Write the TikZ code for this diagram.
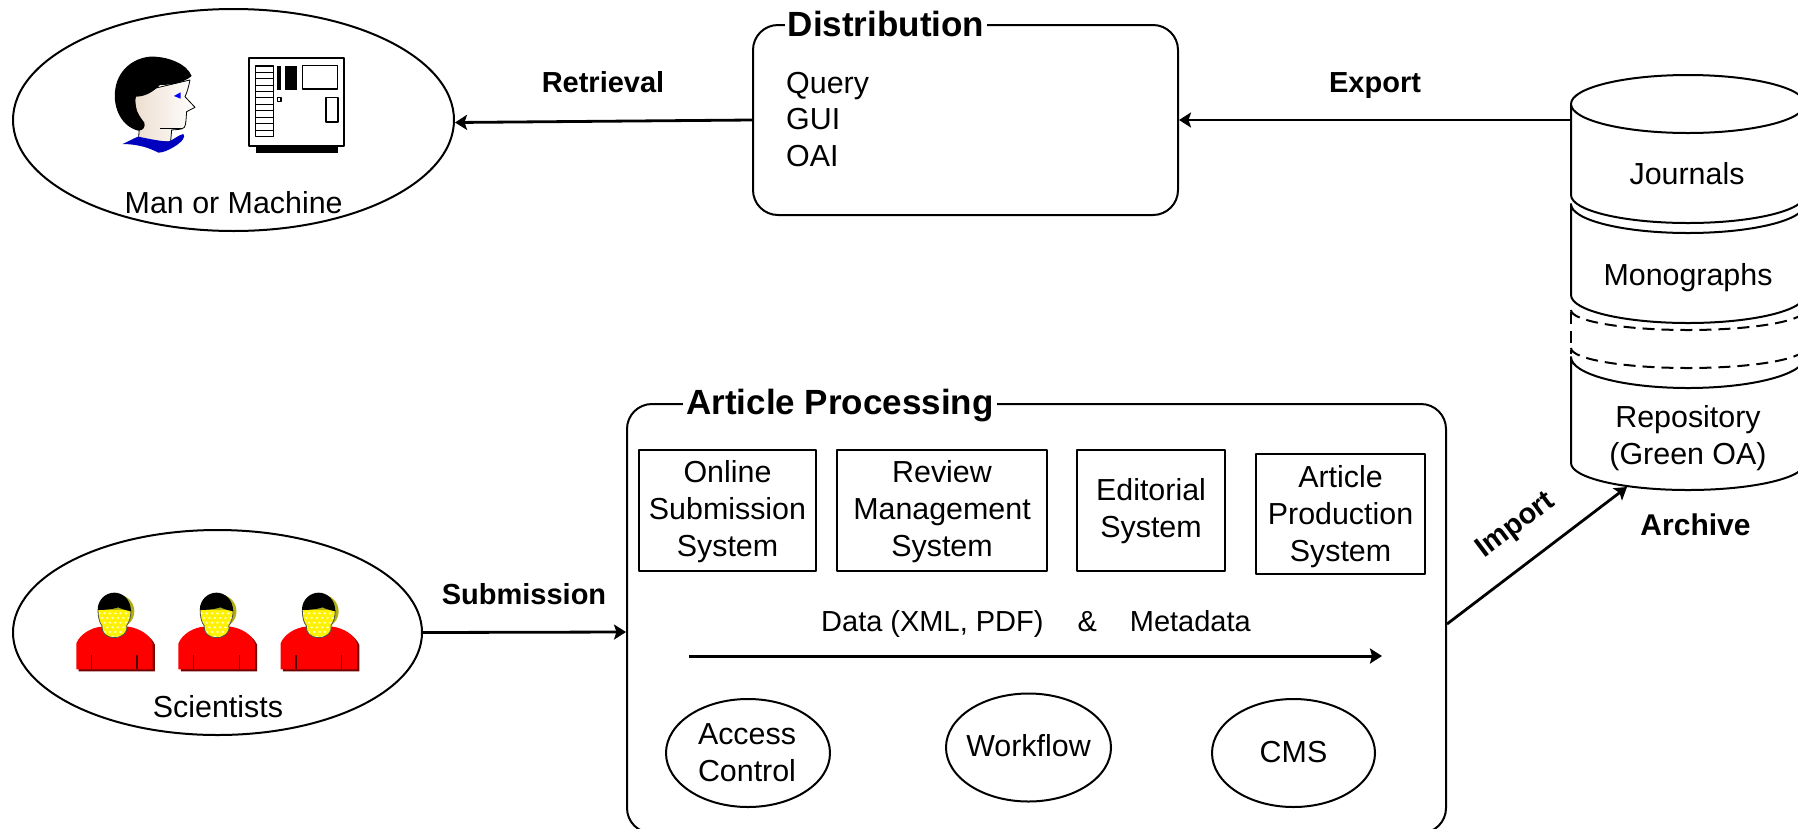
\documentclass[tikz,border=0pt]{standalone}
\usepackage{fontspec}
\setmainfont{Liberation Sans}
\usetikzlibrary{arrows.meta,shapes.geometric}
\definecolor{shadowyellow}{RGB}{175,175,20}
\newcommand{\tallline}[1]{\rule{0pt}{#1pt}}
\tikzset{
  txt/.style={font=\fontsize{30.4}{37}\selectfont,inner sep=0pt,align=center},
  boldlabel/.style={font=\fontsize{29}{35}\selectfont\bfseries,inner sep=0pt},
  grouptitle/.style={font=\fontsize{35}{42}\selectfont\bfseries,fill=white,inner xsep=3pt,inner ysep=0pt,anchor=base},
  group/.style={draw,line width=2pt,rounded corners=25pt,inner sep=0pt,fill=white},
  sysbox/.style={draw,line width=2pt,txt,fill=white},
  big/.style={draw,ellipse,line width=2pt,inner sep=0pt,fill=white},
  conn/.style={line width=2.8pt,-{Stealth[length=12pt,width=15pt,inset=2.5pt]}},
  cyl/.style={draw,line width=2pt,fill=white},
  cyldash/.style={line width=2pt,dash pattern=on 12pt off 7pt},
  person/.pic={
    % shadows
    \fill[shadowyellow] (353,304) circle[radius=50];
    \fill[black!55!red] (236,484) -- (236,405) .. controls (250,375) and (280,355) .. (300,355) -- (390,355) .. controls (425,360) and (455,380) .. (465,405) -- (465,484) -- cycle;
    % body
    \fill[red] (229,478) -- (229,400) .. controls (240,372) and (275,352) .. (305,350) -- (385,350) .. controls (420,355) and (450,375) .. (458,400) -- (458,478) -- cycle;
    \draw[black!70!red,line width=1.2pt] (275,436) -- (275,478) (411,436) -- (411,478);
    % face
    \fill[yellow]
        (294,300) .. controls (294,320) and (298,338) .. (306,347)
        .. controls (304,368) and (318,382) .. (343,383)
        .. controls (368,382) and (384,368) .. (380,347)
        .. controls (388,336) and (393,320) .. (393,300) -- cycle;
    \begin{scope}
      \clip
        (294,300) .. controls (294,320) and (298,338) .. (306,347)
        .. controls (304,368) and (318,382) .. (343,383)
        .. controls (368,382) and (384,368) .. (380,347)
        .. controls (388,336) and (393,320) .. (393,300) -- cycle;
      \foreach \row in {0,1,2,3,4,5,6} \foreach \col in {0,...,6}
        \fill[white!75!yellow] ({290+\col*16+mod(\row,2)*8},{296+\row*14}) ellipse[x radius=4.5,y radius=3.5];
    \end{scope}
    \draw[black!70,line width=0.8pt]
        (294,300) .. controls (294,320) and (298,338) .. (306,347)
        .. controls (304,368) and (318,382) .. (343,383)
        .. controls (368,382) and (384,368) .. (380,347)
        .. controls (388,336) and (393,320) .. (393,300);
    % hair
    \fill[black] (293,300) .. controls (293,268) and (318,248) .. (343,248)
      .. controls (368,248) and (393,268) .. (393,304)
      .. controls (375,300) and (362,296) .. (355,292)
      .. controls (345,296) and (320,300) .. (293,300) -- cycle;
  }
}
\begin{document}
\begin{tikzpicture}[x=1pt,y=-1pt,line join=round]
\useasboundingbox (0,0) rectangle (1798,828);
\clip (0,0) rectangle (1798,828);
\fill[white] (0,0) rectangle (1798,828);

% --- Man or Machine
\node[big,minimum width=441pt,minimum height=222pt] (man) at (233.5,120) {};
\node[txt,anchor=base] (manlabel) at (233.7,213.7) {Man or Machine};
\begin{scope}[x=0.3333pt,y=-0.3333pt]
  % face
  \path[left color=black!5!brown!25!white,right color=white,draw=black,line width=0.8pt]
    (400,280) -- (570,240) .. controls (565,265) and (560,280) .. (555,290)
    -- (585,322) -- (560,335) .. controls (558,360) and (558,375) .. (553,382)
    .. controls (545,390) and (530,388) .. (515,390) -- (512,425) -- (415,425) -- (418,385) -- cycle;
  \draw[line width=1.2pt] (480,386) -- (545,386);
  % hair
  \fill[black] (575,228) .. controls (560,190) and (500,168) .. (450,170)
    .. controls (395,175) and (350,215) .. (345,275)
    .. controls (340,325) and (365,380) .. (415,392)
    .. controls (430,392) and (437,380) .. (433,368)
    .. controls (415,345) and (400,320) .. (408,290)
    .. controls (440,290) and (465,270) .. (480,255)
    .. controls (510,255) and (550,250) .. (575,228) -- cycle;
  % collar
  \fill[blue!75!black] (368,432) .. controls (385,425) and (400,415) .. (415,410)
    .. controls (440,415) and (470,422) .. (505,425)
    .. controls (520,420) and (535,405) .. (550,402)
    .. controls (558,410) and (548,425) .. (520,442)
    .. controls (505,450) and (490,458) .. (475,458)
    .. controls (450,445) and (420,433) .. (368,432) -- cycle;
  % eye
  \fill[blue] (522,288) -- (542,277) -- (542,296) -- cycle;
  % machine
  \fill[black] (767,437) rectangle (1015,460);
  \draw[line width=1.8pt,fill=white] (747,175) rectangle (1033,437);
  \draw[line width=1.2pt] (767,198) rectangle (820,410);
  \foreach \yy in {217,236,256,275,294,314,333,352,371,391}
    \draw[line width=1pt] (767,\yy) -- (820,\yy);
  \fill[black] (832,198) rectangle (843,270);
  \fill[black] (855,198) rectangle (890,270);
  \draw[line width=1.5pt] (907,196) rectangle (1013,267);
  \draw[line width=1.2pt] (832,293) rectangle (843,305);
  \draw[line width=1.5pt] (978,293) rectangle (1014,366);
\end{scope}

% --- Scientists
\node[big,minimum width=409pt,minimum height=205pt] (sci) at (217.5,632.5) {};
\node[txt,anchor=base] (scilabel) at (218,717) {Scientists};
\begin{scope}[x=0.3333pt,y=-0.3333pt,yshift=-510pt]
  \pic at (0,0) {person};
  \pic at (306.5,0) {person};
  \pic at (613,0) {person};
\end{scope}

% --- Distribution
\node[group,minimum width=425pt,minimum height=190pt] (dist) at (965.5,120) {};
\node[grouptitle] (disttitle) at (886,36) {Distribution};
\node[txt,align=left,anchor=base west,font=\fontsize{30.4}{36.5}\selectfont] (distlist) at (786,166) {Query\\GUI\\OAI};

% --- Article Processing
\node[group,minimum width=819pt,minimum height=429pt] (art) at (1036.5,618.5) {};
\node[grouptitle] (arttitle) at (840,414.5) {Article Processing};
\node[sysbox,minimum width=177pt,minimum height=121pt] (oss) at (727.5,510.5) {\tallline{25}Online\\Submission\\System};
\node[sysbox,minimum width=210pt,minimum height=121pt] (rms) at (942,510.5) {\tallline{25}Review\\Management\\System};
\node[sysbox,minimum width=148pt,minimum height=121pt] (eds) at (1151,510.5) {\tallline{24}Editorial\\System};
\node[sysbox,minimum width=169pt,minimum height=120pt] (aps) at (1340.5,514) {\tallline{26.5}Article\\Production\\System};
\node[anchor=base,inner sep=0pt,font=\fontsize{29}{35}\selectfont] (datalabel) at (1036,631) {Data (XML, PDF)\hspace{34pt}\&\hspace{33pt}Metadata};
\coordinate (dstart) at (689,656);
\coordinate (dend) at (1382,656);
\draw[line width=3pt,-{Stealth[length=12pt,width=15pt,inset=2pt]}] (dstart) -- (dend);
\node[big,minimum width=164pt,minimum height=108pt] (acc) at (748,753) {};
\node[big,minimum width=165pt,minimum height=108pt] (wf) at (1028.5,747.5) {};
\node[big,minimum width=163pt,minimum height=108pt] (cms) at (1293.5,753) {};
\node[txt,anchor=base] (acclabel) at (747,781) {Access\\Control};
\node[txt,anchor=base] (wflabel) at (1028.5,756) {Workflow};
\node[txt,anchor=base] (cmslabel) at (1293.5,762) {CMS};

% --- Archive cylinder
\draw[cyl] (1571,357) arc[start angle=180,end angle=360,x radius=117pt,y radius=31pt]
  -- (1805,463) arc[start angle=0,end angle=-180,x radius=117pt,y radius=27pt] -- cycle;
\draw[cyldash] (1571,312) -- (1571,354);
\draw[cyldash] (1571,348) arc[start angle=180,end angle=360,x radius=117pt,y radius=20pt];
\draw[cyldash] (1571,310) arc[start angle=180,end angle=360,x radius=117pt,y radius=20pt];
\draw[cyl] (1571,204) arc[start angle=180,end angle=360,x radius=117pt,y radius=29pt]
  -- (1805,295) arc[start angle=0,end angle=-180,x radius=117pt,y radius=28pt] -- cycle;
\draw[cyl] (1571,104) -- (1805,104) -- (1805,195) arc[start angle=0,end angle=-180,x radius=117pt,y radius=28pt] -- cycle;
\draw[cyl] (1688,104) ellipse[x radius=117pt,y radius=29pt];
\node[txt] (jour) at (1687,174) {Journals};
\node[txt] (mono) at (1688,277.5) {Monographs};
\node[txt] (repo) at (1688,438) {Repository\\(Green OA)};
\node[boldlabel,anchor=base,font=\fontsize{30}{35}\selectfont\bfseries] (archlabel) at (1695.5,535) {Archive};
\coordinate (archout) at (1571,120);
\coordinate (archin) at (1627,487);

% --- Connectors
\draw[conn] (dist.west) -- ([yshift=-2.5pt]man.east);
\draw[conn] (archout) -- (dist.east);
\draw[conn] (sci.east) -- ([yshift=-1pt]art.west|-datalabel.base);
\draw[conn] ([yshift=-5.5pt]art.east) -- (archin);
\node[boldlabel,anchor=base] (retr) at (603,92) {Retrieval};
\node[boldlabel,anchor=base] (expo) at (1375,92) {Export};
\node[boldlabel,anchor=base] (subm) at (524,604) {Submission};
\node[boldlabel,rotate=37] (impo) at (1516,526) {Import};
\end{tikzpicture}
\end{document}
